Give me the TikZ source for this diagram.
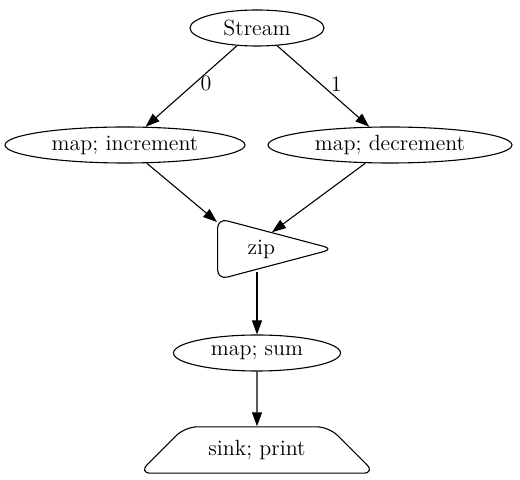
\documentclass[tikz,border=0pt]{standalone}
\usetikzlibrary{shapes.geometric,arrows.meta}
\tikzset{
  op/.style={draw, ellipse, inner sep=0pt, minimum height=18pt},
  zipbox/.style={draw, isosceles triangle, isosceles triangle stretches,
    shape border rotate=0, minimum width=29pt, minimum height=58pt,
    inner sep=0pt, rounded corners=5pt},
  sinkbox/.style={draw, trapezium, trapezium left angle=45, trapezium right angle=45,
    inner xsep=11.7pt, inner ysep=6.7pt, rounded corners=6pt},
  flow/.style={-{Triangle[length=7pt,width=5pt]}},
  idx/.style={font=\fontsize{11}{13}\selectfont, inner sep=1pt}
}
\begin{document}
\begin{tikzpicture}[x=0.5pt, y=-0.5pt, line width=0.55pt,
    every node/.style={font=\fontsize{11}{13}\selectfont}]
      \useasboundingbox (0,0) rectangle (520,480);
      \draw
        (257,28) node[op, minimum width=67pt] (stream){Stream}
        (125,145) node[op, minimum width=120pt] (inc){map; increment}
        (390,145) node[op, minimum width=122pt] (dec){map; decrement}
        (335,249) node[zipbox, anchor=apex] (zip){\hspace*{12pt}zip}
        (257,353) node[op, minimum width=83.5pt] (sum){map; sum}
        (257,450) node[sinkbox] (sink){sink; print};
      \begin{scope}[flow]
        \draw (stream) to node[idx, pos=0.47, right=2pt]{0} (inc);
        \draw (stream) to node[idx, pos=0.47, right=4pt]{1} (dec);
        \draw (inc) to (zip);
        \draw (dec) to (zip);
        \draw (zip.south -| sum) to (sum);
        \draw (sum) to (sink);
      \end{scope}
    \end{tikzpicture}
\end{document}
